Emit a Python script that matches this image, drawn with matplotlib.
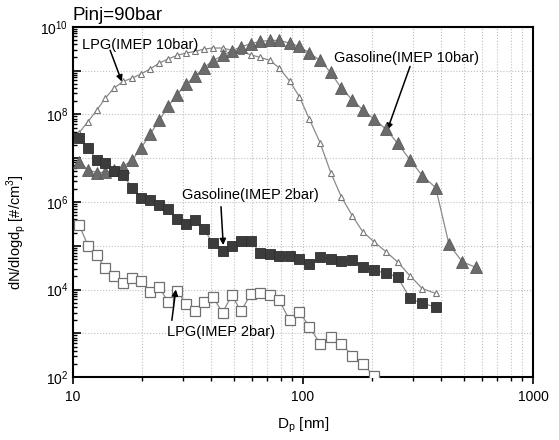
import math
import matplotlib
matplotlib.use("Agg")
import matplotlib.pyplot as plt
from matplotlib.ticker import LogLocator, FuncFormatter, NullFormatter

plt.rcParams['font.family'] = ['Liberation Sans', 'DejaVu Sans']

# particle diameter channels [nm]
dp = [10.62, 11.62, 12.68, 13.82, 15.08, 16.50, 18.10, 19.82, 21.62, 23.73,
      25.88, 28.33, 31.00, 33.92, 37.12, 40.62, 44.67, 48.98, 53.77, 59.25,
      65.22, 71.87, 78.89, 87.36, 96.36, 106.7, 118.6, 132.0, 146.7, 163.8,
      181.8, 203.6, 229.6, 257.6, 291.9, 330.2, 377.6, 431.3, 492.7, 565.1]

gas_10 = [8.34e6, 5.39e6, 4.68e6, 4.78e6, 5.39e6, 6.41e6, 9.12e6, 1.74e7, 3.53e7, 7.29e7,
          1.52e8, 2.79e8, 4.90e8, 7.31e8, 1.17e9, 1.67e9, 2.21e9, 2.83e9, 3.44e9, 4.09e9,
          4.61e9, 4.86e9, 4.86e9, 4.24e9, 3.55e9, 2.51e9, 1.70e9, 9.02e8, 3.97e8, 2.14e8,
          1.27e8, 7.77e7, 4.59e7, 2.20e7, 9.12e6, 3.99e6, 2.12e6, 1.08e5, 4.32e4, 3.21e4]

lpg_10 = [3.78e7, 6.85e7, 1.23e8, 2.35e8, 3.97e8, 5.62e8, 6.72e8, 8.43e8, 1.08e9, 1.48e9,
          1.83e9, 2.21e9, 2.51e9, 2.72e9, 3.09e9, 3.26e9, 3.26e9, 2.90e9, 2.72e9, 2.29e9,
          1.99e9, 1.70e9, 1.14e9, 5.83e8, 2.55e8, 7.69e7, 2.27e7, 4.68e6, 1.32e6, 4.86e5,
          2.10e5, 1.24e5, 7.31e4, 4.32e4, 2.07e4, 1.06e4, 8.19e3]

gas_2 = [2.86e7, 1.69e7, 9.12e6, 7.91e6, 5.19e6, 4.14e6, 2.06e6, 1.25e6, 1.09e6, 8.54e5,
         6.81e5, 4.02e5, 3.09e5, 3.88e5, 2.42e5, 1.13e5, 7.71e4, 9.71e4, 1.28e5, 1.28e5,
         7.01e4, 6.58e4, 5.83e4, 5.83e4, 4.90e4, 3.83e4, 5.45e4, 4.98e4, 4.48e4, 4.72e4,
         3.32e4, 2.79e4, 2.35e4, 1.96e4, 6.29e3, 4.84e3, 4.04e3]

lpg_2 = [3.06e5, 1.01e5, 6.15e4, 3.05e4, 2.04e4, 1.43e4, 1.86e4, 1.56e4, 8.91e3, 1.12e4,
         5.32e3, 9.48e3, 4.73e3, 3.31e3, 5.27e3, 6.84e3, 2.95e3, 7.48e3, 3.23e3, 7.89e3,
         8.19e3, 7.37e3, 5.75e3, 2.01e3, 3.14e3, 1.41e3, 5.89e2, 8.34e2, 5.89e2, 3.07e2,
         2.06e2, 1.05e2]

fig = plt.figure(figsize=(5.59, 4.40), dpi=100)
ax = fig.add_axes([73 / 559, 1 - 377.3 / 440, 460 / 559, 350.6 / 440])

line_c = '#8a8a8a'
ax.plot(dp[:len(lpg_10)], lpg_10, '-', color=line_c, lw=0.9, marker='^', ms=5,
        mfc='white', mec='#777777', mew=0.8, zorder=3)
ax.plot(dp[:len(gas_10)], gas_10, '-', color=line_c, lw=0.9, marker='^', ms=8.5,
        mfc='#6b6b6b', mec='#5a5a5a', mew=0.6, zorder=4)
ax.plot(dp[:len(gas_2)], gas_2, '-', color=line_c, lw=0.9, marker='s', ms=7.5,
        mfc='#3c3c3c', mec='#2e2e2e', mew=0.6, zorder=5)
ax.plot(dp[:len(lpg_2)], lpg_2, '-', color=line_c, lw=0.9, marker='s', ms=6.5,
        mfc='white', mec='#707070', mew=0.9, zorder=3)

ax.set_xscale('log')
ax.set_yscale('log')
ax.set_xlim(10, 1000)
ax.set_ylim(1e2, 1e10)

ax.yaxis.set_major_locator(LogLocator(base=10, numticks=20))
ax.yaxis.set_minor_locator(LogLocator(base=10, subs=range(2, 10), numticks=20))
ax.yaxis.set_minor_formatter(NullFormatter())


def ylab(v, pos):
    e = int(round(math.log10(v)))
    return r'$\mathregular{10^{%d}}$' % e if e % 2 == 0 else ''


ax.yaxis.set_major_formatter(FuncFormatter(ylab))
ax.xaxis.set_major_formatter(FuncFormatter(lambda v, p: '%d' % v))
ax.xaxis.set_minor_formatter(NullFormatter())

ax.tick_params(axis='y', which='major', direction='in', length=6, width=1.2, labelsize=10)
ax.tick_params(axis='y', which='minor', direction='in', length=3, width=1)
ax.tick_params(axis='x', which='major', direction='out', length=5, width=1.2, labelsize=10, pad=4)
ax.tick_params(axis='x', which='minor', direction='out', length=3, width=1)
ax.tick_params(top=False, right=False, which='both')

for s in ax.spines.values():
    s.set_linewidth(1.5)

ax.grid(True, which='major', axis='both', ls=':', color='#c0c0c0', lw=0.8)
ax.grid(True, which='minor', axis='x', ls=':', color='#c0c0c0', lw=0.8)
ax.set_axisbelow(True)

ax.set_xlabel(r'D$_\mathregular{p}$ [nm]', fontsize=11, labelpad=8)
ax.set_ylabel(r'dN/dlogd$_\mathregular{p}$ [#/cm$^\mathregular{3}$]', fontsize=10.5)
ax.yaxis.set_label_coords(-0.098, 0.414)
ax.set_title('Pinj=90bar', loc='left', fontsize=13.5, pad=5)

arr = dict(arrowstyle='-|>', color='black', lw=1.1, mutation_scale=9, shrinkA=0, shrinkB=0)

ax.text(19.5, 3.88e9, 'LPG(IMEP 10bar)', ha='center', va='center', fontsize=10.5, zorder=6)
ax.annotate('', xy=(16.3, 5.6e8), xytext=(14.5, 2.9e9), arrowprops=arr)

ax.text(283, 1.95e9, 'Gasoline(IMEP 10bar)', ha='center', va='center', fontsize=10.5)
ax.annotate('', xy=(232.6, 4.4e7), xytext=(292, 1.24e9), arrowprops=arr)

ax.text(58.8, 1.45e6, 'Gasoline(IMEP 2bar)', ha='center', va='center', fontsize=10.5)
ax.annotate('', xy=(45.0, 1.04e5), xytext=(44.0, 7.8e5), arrowprops=arr)

ax.text(43.9, 1.08e3, 'LPG(IMEP 2bar)', ha='center', va='center', fontsize=10.5)
ax.annotate('', xy=(28.0, 1.01e4), xytext=(26.9, 2.0e3), arrowprops=arr)

fig.savefig('out.png', dpi=100)
